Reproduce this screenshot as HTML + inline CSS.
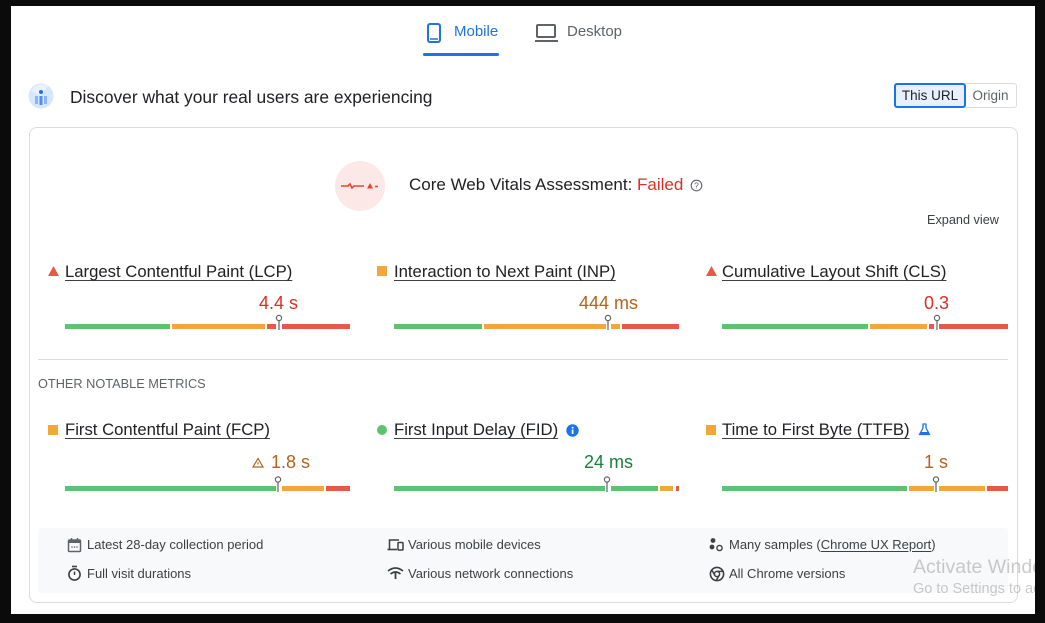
<!DOCTYPE html>
<html><head><meta charset="utf-8">
<style>
*{margin:0;padding:0;box-sizing:border-box}
html,body{width:1045px;height:623px;overflow:hidden;background:#0b0b0b;font-family:"Liberation Sans",Arial,sans-serif}
.a{position:absolute;white-space:nowrap}
#page{position:absolute;left:11px;top:6px;width:1024px;height:608px;background:#fff;overflow:hidden}
.lbl{font-size:16.7px;color:#202124;text-decoration:underline;text-underline-offset:3px;text-decoration-thickness:1px;line-height:20px;text-decoration-color:#3c4043}
.val{font-size:18px;line-height:22px;text-align:right}
.red{color:#d93025}.org{color:#b4631d}.grn{color:#188038}
.seg{position:absolute;height:5px}
.g{background:#5ec26e}.o{background:#f1a73c}.r{background:#e7584a}
.ft{font-size:13px;color:#3c4043;line-height:16px}
</style></head><body>
<div id="page">
<div style="position:absolute;left:-11px;top:-6px;width:1045px;height:623px">

<!-- tabs -->
<svg class="a" style="left:426px;top:22px" width="18" height="24"><rect x="2" y="2" width="12" height="18" rx="2" fill="none" stroke="#1a73e8" stroke-width="2"/><line x1="4" y1="17" x2="12" y2="17" stroke="#1a73e8" stroke-width="1.5"/></svg>
<div class="a" style="left:454px;top:23px;font-size:15px;line-height:18px;color:#1a73e8">Mobile</div>
<div class="a" style="left:423px;top:53px;width:76px;height:3px;background:#1a73e8;border-radius:2px"></div>
<svg class="a" style="left:534px;top:23px" width="25" height="20"><rect x="3" y="2" width="18" height="12" rx="1" fill="none" stroke="#5f6368" stroke-width="2"/><line x1="1" y1="18" x2="24" y2="18" stroke="#5f6368" stroke-width="2"/></svg>
<div class="a" style="left:567px;top:23px;font-size:15px;line-height:18px;color:#5f6368">Desktop</div>

<!-- header -->
<svg class="a" style="left:28px;top:83px" width="26" height="26"><circle cx="13" cy="13" r="12.5" fill="#d6e6fb"/><path d="M3 8 A12 12 0 0 1 20 3 L13 13Z" fill="#e9f1fd"/><circle cx="13" cy="9" r="2" fill="#1a73e8"/><rect x="7" y="13" width="3" height="8" fill="#8ab4f8"/><rect x="11.5" y="13" width="3" height="9" fill="#4d8ff0"/><rect x="16" y="13" width="3" height="8" fill="#8ab4f8"/></svg>
<div class="a" style="left:70px;top:87px;font-size:17.4px;line-height:20px;color:#202124">Discover what your real users are experiencing</div>
<div class="a" style="left:894px;top:83px;width:72px;height:25px;border:2px solid #1a73e8;border-radius:3px;background:#e8f0fe;font-size:13.5px;line-height:21px;text-align:center;color:#202124">This URL</div>
<div class="a" style="left:965px;top:83px;width:52px;height:25px;border:1px solid #dadce0;border-left:none;border-radius:0 3px 3px 0;font-size:13.5px;line-height:23px;text-align:center;color:#5f6368">Origin</div>

<!-- card -->
<div class="a" style="left:29px;top:127px;width:989px;height:476px;border:1px solid #dadce0;border-radius:8px"></div>

<!-- assessment -->
<svg class="a" style="left:334px;top:160px" width="52" height="52"><circle cx="26" cy="26" r="25" fill="#fce8e6"/><path d="M7 26 H14 L16 24 L18 28 L20 26 H30" fill="none" stroke="#ea4335" stroke-width="1.6"/><path d="M33 28.5 L36 23 L39 28.5Z" fill="#ea4335"/><line x1="41" y1="26.5" x2="44" y2="26.5" stroke="#ea4335" stroke-width="1.6"/></svg>
<div class="a" style="left:409px;top:175px;font-size:17px;line-height:20px;color:#202124">Core Web Vitals Assessment: <span style="color:#d93025">Failed</span></div>
<svg class="a" style="left:690px;top:179px" width="13" height="13"><circle cx="6.5" cy="6.5" r="5.3" fill="none" stroke="#5f6368" stroke-width="1.1"/><text x="6.5" y="9.5" font-size="8.5" text-anchor="middle" fill="#5f6368" font-family="Liberation Sans">?</text></svg>
<div class="a" style="left:927px;top:212px;font-size:12.7px;line-height:16px;color:#3c4043">Expand view</div>

<!-- row 1 -->
<svg class="a" style="left:47px;top:265px" width="13" height="12"><path d="M1 11 L6.5 1 L12 11Z" fill="#e7584a"/></svg>
<div class="a lbl" style="left:65px;top:262px">Largest Contentful Paint (LCP)</div>
<div class="a val red" style="right:747px;top:292px">4.4 s</div>
<div class="seg g" style="left:65px;top:324px;width:105px"></div>
<div class="seg o" style="left:172px;top:324px;width:93px"></div>
<div class="seg r" style="left:267px;top:324px;width:9px"></div>
<div class="seg r" style="left:282px;top:324px;width:68px"></div>

<div class="a" style="left:377px;top:266px;width:10px;height:10px;background:#f1a73c"></div>
<div class="a lbl" style="left:394px;top:262px">Interaction to Next Paint (INP)</div>
<div class="a val org" style="right:407px;top:292px">444 ms</div>
<div class="seg g" style="left:394px;top:324px;width:88px"></div>
<div class="seg o" style="left:484px;top:324px;width:122px"></div>
<div class="seg o" style="left:611px;top:324px;width:9px"></div>
<div class="seg r" style="left:622px;top:324px;width:57px"></div>

<svg class="a" style="left:705px;top:265px" width="13" height="12"><path d="M1 11 L6.5 1 L12 11Z" fill="#e7584a"/></svg>
<div class="a lbl" style="left:722px;top:262px">Cumulative Layout Shift (CLS)</div>
<div class="a val red" style="right:96px;top:292px">0.3</div>
<div class="seg g" style="left:722px;top:324px;width:146px"></div>
<div class="seg o" style="left:870px;top:324px;width:57px"></div>
<div class="seg r" style="left:929px;top:324px;width:5px"></div>
<div class="seg r" style="left:939px;top:324px;width:69px"></div>

<!-- markers -->
<svg class="a" style="left:0;top:0" width="1045" height="623">
<g fill="#fff" stroke="#5f6368" stroke-width="1.2">
<circle cx="279" cy="318" r="2.6"/><line x1="279" y1="320.6" x2="279" y2="330"/>
<circle cx="608" cy="318" r="2.6"/><line x1="608" y1="320.6" x2="608" y2="330"/>
<circle cx="937" cy="318" r="2.6"/><line x1="937" y1="320.6" x2="937" y2="330"/>
<circle cx="278" cy="479.5" r="2.6"/><line x1="278" y1="482" x2="278" y2="492"/>
<circle cx="607" cy="479.5" r="2.6"/><line x1="607" y1="482" x2="607" y2="492"/>
<circle cx="936" cy="479.5" r="2.6"/><line x1="936" y1="482" x2="936" y2="492"/>
</g></svg>

<!-- divider -->
<div class="a" style="left:38px;top:359px;width:970px;height:1px;background:#dadce0"></div>
<div class="a" style="left:38px;top:377px;font-size:12.75px;line-height:14px;color:#5f6368">OTHER NOTABLE METRICS</div>

<!-- row 2 -->
<div class="a" style="left:48px;top:425px;width:10px;height:10px;background:#f1a73c"></div>
<div class="a lbl" style="left:65px;top:420px">First Contentful Paint (FCP)</div>
<svg class="a" style="left:252px;top:457px" width="12" height="11"><path d="M1 10 L6 1.5 L11 10Z" fill="none" stroke="#b4631d" stroke-width="1.2"/><line x1="6" y1="5" x2="6" y2="7.5" stroke="#b4631d" stroke-width="1"/></svg>
<div class="a val org" style="right:735px;top:451px">1.8 s</div>
<div class="seg g" style="left:65px;top:486px;width:211px"></div>
<div class="seg o" style="left:282px;top:486px;width:42px"></div>
<div class="seg r" style="left:326px;top:486px;width:24px"></div>

<div class="a" style="left:377px;top:425px;width:10px;height:10px;border-radius:50%;background:#5ec26e"></div>
<div class="a lbl" style="left:394px;top:420px">First Input Delay (FID)</div>
<svg class="a" style="left:566px;top:424px" width="13" height="13"><circle cx="6.5" cy="6.5" r="6.2" fill="#1a73e8"/><rect x="5.7" y="5.5" width="1.8" height="4.5" fill="#fff"/><circle cx="6.6" cy="3.6" r="1" fill="#fff"/></svg>
<div class="a val grn" style="right:412px;top:451px">24 ms</div>
<div class="seg g" style="left:394px;top:486px;width:211px"></div>
<div class="seg g" style="left:611px;top:486px;width:47px"></div>
<div class="seg o" style="left:660px;top:486px;width:13px"></div>
<div class="seg r" style="left:676px;top:486px;width:3px"></div>

<div class="a" style="left:706px;top:425px;width:10px;height:10px;background:#f1a73c"></div>
<div class="a lbl" style="left:722px;top:420px">Time to First Byte (TTFB)</div>
<svg class="a" style="left:918px;top:423px" width="13" height="13"><path d="M4.5 1 H8.5 M5 1 V5 L1.5 11.5 H11.5 L8 5 V1" fill="none" stroke="#1a73e8" stroke-width="1.3"/><path d="M3.3 9 H9.7 L11 11.3 H2Z" fill="#1a73e8"/></svg>
<div class="a val org" style="right:97px;top:451px">1 s</div>
<div class="seg g" style="left:722px;top:486px;width:185px"></div>
<div class="seg o" style="left:909px;top:486px;width:25px"></div>
<div class="seg o" style="left:939px;top:486px;width:46px"></div>
<div class="seg r" style="left:987px;top:486px;width:21px"></div>

<!-- footer -->
<div class="a" style="left:38px;top:528px;width:970px;height:65px;background:#f8f9fa;border-radius:3px"></div>
<svg class="a" style="left:67px;top:537px" width="15" height="16"><rect x="1.5" y="3" width="12" height="11.5" rx="1" fill="none" stroke="#5f6368" stroke-width="1.5"/><rect x="1.5" y="3" width="12" height="3" fill="#5f6368"/><line x1="4.5" y1="1" x2="4.5" y2="4" stroke="#5f6368" stroke-width="1.4"/><line x1="10.5" y1="1" x2="10.5" y2="4" stroke="#5f6368" stroke-width="1.4"/><circle cx="5" cy="10" r=".8" fill="#5f6368"/><circle cx="7.5" cy="10" r=".8" fill="#5f6368"/><circle cx="10" cy="10" r=".8" fill="#5f6368"/></svg>
<div class="a ft" style="left:87px;top:537px">Latest 28-day collection period</div>
<svg class="a" style="left:67px;top:565px" width="15" height="17"><circle cx="7.5" cy="9.5" r="5.6" fill="none" stroke="#3c4043" stroke-width="1.6"/><line x1="5" y1="1.5" x2="10" y2="1.5" stroke="#3c4043" stroke-width="1.6"/><line x1="7.5" y1="6.5" x2="7.5" y2="10" stroke="#3c4043" stroke-width="1.5"/></svg>
<div class="a ft" style="left:87px;top:566px">Full visit durations</div>

<svg class="a" style="left:387px;top:538px" width="17" height="14"><path d="M2.5 11 V2 H12" fill="none" stroke="#3c4043" stroke-width="1.5"/><line x1="0.5" y1="11.5" x2="10" y2="11.5" stroke="#3c4043" stroke-width="1.6"/><rect x="11" y="4.5" width="5" height="7.5" rx=".8" fill="none" stroke="#3c4043" stroke-width="1.5"/></svg>
<div class="a ft" style="left:408px;top:537px">Various mobile devices</div>
<svg class="a" style="left:387px;top:567px" width="17" height="14"><path d="M1 4 Q8.5 -2 16 4" fill="none" stroke="#3c4043" stroke-width="1.6"/><path d="M3.5 7 Q8.5 3 13.5 7" fill="none" stroke="#3c4043" stroke-width="1.6"/><line x1="8.5" y1="5" x2="8.5" y2="12" stroke="#3c4043" stroke-width="1.8"/></svg>
<div class="a ft" style="left:408px;top:566px">Various network connections</div>

<svg class="a" style="left:709px;top:537px" width="15" height="15"><circle cx="4" cy="3.5" r="2.4" fill="#3c4043"/><circle cx="3" cy="10" r="2.4" fill="#3c4043"/><circle cx="10.5" cy="11" r="2.6" fill="none" stroke="#3c4043" stroke-width="1.4"/></svg>
<div class="a ft" style="left:729px;top:537px">Many samples (<span style="text-decoration:underline;text-underline-offset:2px">Chrome UX Report</span>)</div>
<svg class="a" style="left:709px;top:566px" width="16" height="16"><circle cx="8" cy="8" r="6.6" fill="none" stroke="#3c4043" stroke-width="1.6"/><circle cx="8" cy="8" r="2.6" fill="none" stroke="#3c4043" stroke-width="1.5"/><path d="M8 5.4 H14 M5.8 9.3 L2.8 4 M10.2 9.3 L7.2 14.5" stroke="#3c4043" stroke-width="1.5"/></svg>
<div class="a ft" style="left:729px;top:566px">All Chrome versions</div>

<!-- watermark -->
<div class="a" style="left:913px;top:555px;font-size:19.5px;line-height:24px;color:rgba(150,150,150,.5)">Activate Windows</div>
<div class="a" style="left:913px;top:580px;font-size:14.5px;line-height:18px;color:rgba(150,150,150,.5)">Go to Settings to activate Windows.</div>

</div>
</div>
</body></html>
